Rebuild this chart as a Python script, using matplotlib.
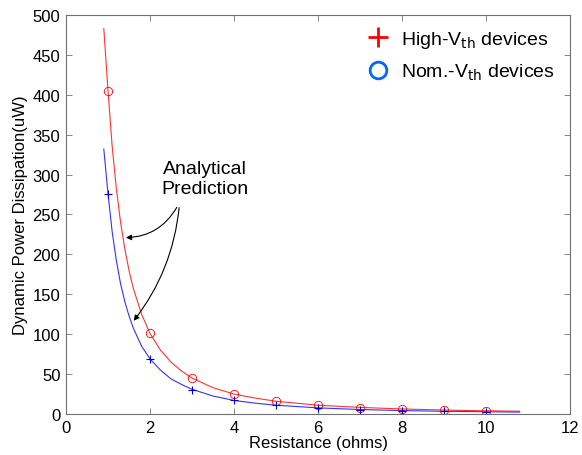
import matplotlib
matplotlib.use("Agg")
import matplotlib.pyplot as plt

plt.rcParams['font.family'] = ['Liberation Sans', 'DejaVu Sans']

# analytical prediction curves
curve_r = [0.9, 1.0, 1.1, 1.2, 1.3, 1.4, 1.5, 1.6, 1.8, 2.0, 2.25, 2.5, 2.75,
           3.0, 3.5, 4.0, 4.5, 5.0, 6.0, 7.0, 8.0, 9.0, 10.0, 10.8]
curve_high = [483, 405, 335, 282, 240, 207, 180, 158, 125, 101, 80, 65, 54,
              45, 33, 25, 20, 16, 11, 8.3, 6.3, 5.0, 4.0, 3.5]
curve_nom = [332, 276, 228, 192, 163, 141, 123, 108, 85, 69, 55, 44, 37,
             31, 22.5, 17, 13.6, 11, 7.7, 5.6, 4.3, 3.4, 2.8, 2.4]

# measured points
meas_r = [1, 2, 3, 4, 5, 6, 7, 8, 9, 10]
meas_high = [405, 101, 45, 25, 16, 11, 8, 6, 5, 4]
meas_nom = [276, 69, 30, 17, 11, 7.5, 5.5, 4.3, 3.4, 2.8]

fig = plt.figure(figsize=(5.82, 4.56), dpi=100)
ax = fig.add_axes([0.1134, 0.0899, 0.8660, 0.8751])

ax.plot(curve_r, curve_high, color='#ff3333', lw=0.8)
ax.plot(curve_r, curve_nom, color='#3333ff', lw=0.8)
ax.plot(meas_r, meas_high, 'o', mfc='none', mec='#ff0000', ms=6, mew=0.6)
ax.plot(meas_r, meas_nom, '+', color='#0000cc', ms=6, mew=0.8)

# legend handles (as in the original figure)
h1, = ax.plot([], [], '+', color='#ff0000', ms=14, mew=2)
h2, = ax.plot([], [], 'o', mfc='none', mec='#0066ff', ms=12, mew=2)
ax.legend([h1, h2], ['High-V$_{\\rm th}$ devices', 'Nom.-V$_{\\rm th}$ devices'],
          loc='upper right', frameon=False, fontsize=14, handlelength=1.0,
          handletextpad=0.7, borderaxespad=0.0, labelspacing=0.6,
          bbox_to_anchor=(0.985, 0.985))

ax.text(3.3, 295, 'Analytical\nPrediction', ha='center', va='center',
        fontsize=14, linespacing=1.25)
ax.annotate('', xy=(1.36, 221), xytext=(2.67, 262),
            arrowprops=dict(arrowstyle='-|>', color='black', lw=0.8,
                            mutation_scale=8, connectionstyle='arc3,rad=-0.3'))
ax.annotate('', xy=(1.57, 114), xytext=(2.7, 262),
            arrowprops=dict(arrowstyle='-|>', color='black', lw=0.8,
                            mutation_scale=8, connectionstyle='arc3,rad=-0.15'))

ax.set_xlim(0, 12)
ax.set_ylim(0, 500)
ax.set_xticks(range(0, 13, 2))
ax.set_yticks(range(0, 501, 50))
ax.tick_params(direction='in', length=4, width=0.6, color='#707070',
               top=True, right=True, labelsize=12, pad=4)
for s in ax.spines.values():
    s.set_color('#707070')
    s.set_linewidth(0.8)

ax.set_xlabel('Resistance (ohms)', fontsize=12, labelpad=0)
ax.set_ylabel('Dynamic Power Dissipation(uW)', fontsize=12, labelpad=3)

fig.savefig('out.png', dpi=100)
